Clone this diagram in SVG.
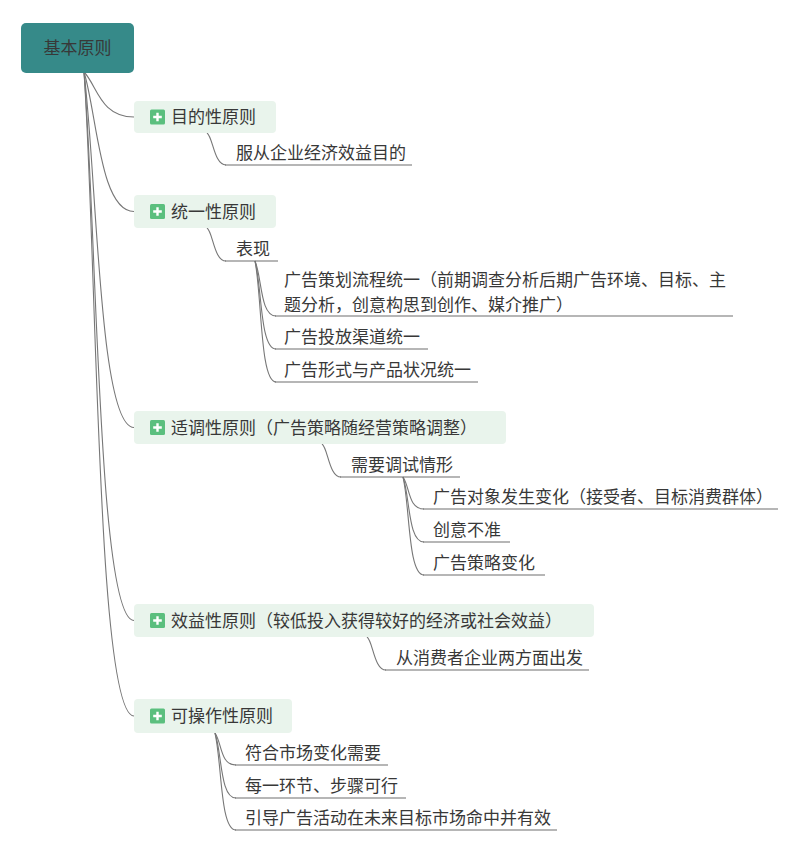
<svg xmlns="http://www.w3.org/2000/svg" width="800" height="852" viewBox="0 0 800 852">
<defs>
<style>
text{font-family:"Noto Sans CJK SC","Noto Sans",sans-serif;font-size:17px;fill:#383838}
.root{fill:#368A89}
.branch{fill:#E9F4EC}
.icon{fill:#5BBF7E}
.plus{stroke:#FFFFFF;stroke-width:2.4;fill:none}
.conn{fill:none;stroke:#777777;stroke-width:1.1}
.ul{fill:none;stroke:#6E6E6E;stroke-width:1.1}
</style>
<g id="plusicon"><rect class="icon" x="0" y="0" width="15" height="15" rx="1.5"/><path class="plus" d="M7.5 3.2V11.8M3.2 7.5H11.8"/></g>
</defs>
<rect width="800" height="852" fill="#FFFFFF"/>
<g id="connectors">
<path class="conn" d="M84 72C97 85 100 117 134 117"/>
<path class="conn" d="M84 72C97 114 100 211.5 134 211.5"/>
<path class="conn" d="M84 72C97 178 99 427.5 134 427.5"/>
<path class="conn" d="M84 72C97 236 98 620.5 134 620.5"/>
<path class="conn" d="M84 72C97 265 97 716 134 716"/>
<path class="conn" d="M207 133C213 137 214 165 226 165"/>
<path class="conn" d="M207 228C213 232 214 261 226 261"/>
<path class="conn" d="M255 261C262 277 260 316 276 316"/>
<path class="conn" d="M255 261C262 287 260 349 276 349"/>
<path class="conn" d="M255 261C262 297 260 382 276 382"/>
<path class="conn" d="M322 444C328 448 329 477 341 477"/>
<path class="conn" d="M403 477C410 487 408 509 424 509"/>
<path class="conn" d="M403 477C410 497 408 542 424 542"/>
<path class="conn" d="M403 477C410 507 408 575 424 575"/>
<path class="conn" d="M367 637C373 641 374 670 386 670"/>
<path class="conn" d="M215 733C222 743 220 765 236 765"/>
<path class="conn" d="M215 733C222 753 220 798 236 798"/>
<path class="conn" d="M215 733C222 763 220 830 236 830"/>
</g>
<g id="root">
<rect class="root" x="21" y="23" width="113" height="50" rx="5"/>
<text x="77.5" y="54" text-anchor="middle">基本原则</text>
</g>
<g id="b1">
<rect class="branch" x="134" y="101" width="142" height="32" rx="4"/>
<use href="#plusicon" x="150" y="109.5"/>
<text x="171" y="123">目的性原则</text>
</g>
<g id="b1c1">
<path class="ul" d="M225 165H412"/>
<text x="236" y="159">服从企业经济效益目的</text>
</g>
<g id="b2">
<rect class="branch" x="134" y="195" width="142" height="33" rx="4"/>
<use href="#plusicon" x="150" y="204"/>
<text x="171" y="218">统一性原则</text>
</g>
<g id="b2c1">
<path class="ul" d="M225 261H278"/>
<text x="236" y="255">表现</text>
</g>
<g id="b2c1a">
<path class="ul" d="M275 316H733"/>
<text x="284" y="286"><tspan x="284" y="286">广告策划流程统一（前期调查分析后期广告环境、目标、主</tspan><tspan x="284" y="311">题分析，创意构思到创作、媒介推广）</tspan></text>
</g>
<g id="b2c1b">
<path class="ul" d="M275 349H428"/>
<text x="284" y="343">广告投放渠道统一</text>
</g>
<g id="b2c1c">
<path class="ul" d="M275 382H478"/>
<text x="284" y="376">广告形式与产品状况统一</text>
</g>
<g id="b3">
<rect class="branch" x="134" y="411" width="372" height="33" rx="4"/>
<use href="#plusicon" x="150" y="420"/>
<text x="171" y="434">适调性原则（广告策略随经营策略调整）</text>
</g>
<g id="b3c1">
<path class="ul" d="M340 477H460"/>
<text x="351" y="471">需要调试情形</text>
</g>
<g id="b3c1a">
<path class="ul" d="M423 509H778"/>
<text x="433" y="503">广告对象发生变化（接受者、目标消费群体）</text>
</g>
<g id="b3c1b">
<path class="ul" d="M423 542H510"/>
<text x="433" y="536">创意不准</text>
</g>
<g id="b3c1c">
<path class="ul" d="M423 575H545"/>
<text x="433" y="569">广告策略变化</text>
</g>
<g id="b4">
<rect class="branch" x="134" y="604" width="460" height="33" rx="4"/>
<use href="#plusicon" x="150" y="613"/>
<text x="171" y="627">效益性原则（较低投入获得较好的经济或社会效益）</text>
</g>
<g id="b4c1">
<path class="ul" d="M385 670H589"/>
<text x="396" y="664">从消费者企业两方面出发</text>
</g>
<g id="b5">
<rect class="branch" x="134" y="699" width="158" height="34" rx="4"/>
<use href="#plusicon" x="150" y="708.5"/>
<text x="171" y="722">可操作性原则</text>
</g>
<g id="b5c1">
<path class="ul" d="M235 765H388"/>
<text x="245" y="759">符合市场变化需要</text>
</g>
<g id="b5c2">
<path class="ul" d="M235 798H406"/>
<text x="245" y="792">每一环节、步骤可行</text>
</g>
<g id="b5c3">
<path class="ul" d="M235 830H557"/>
<text x="245" y="824">引导广告活动在未来目标市场命中并有效</text>
</g>
</svg>
